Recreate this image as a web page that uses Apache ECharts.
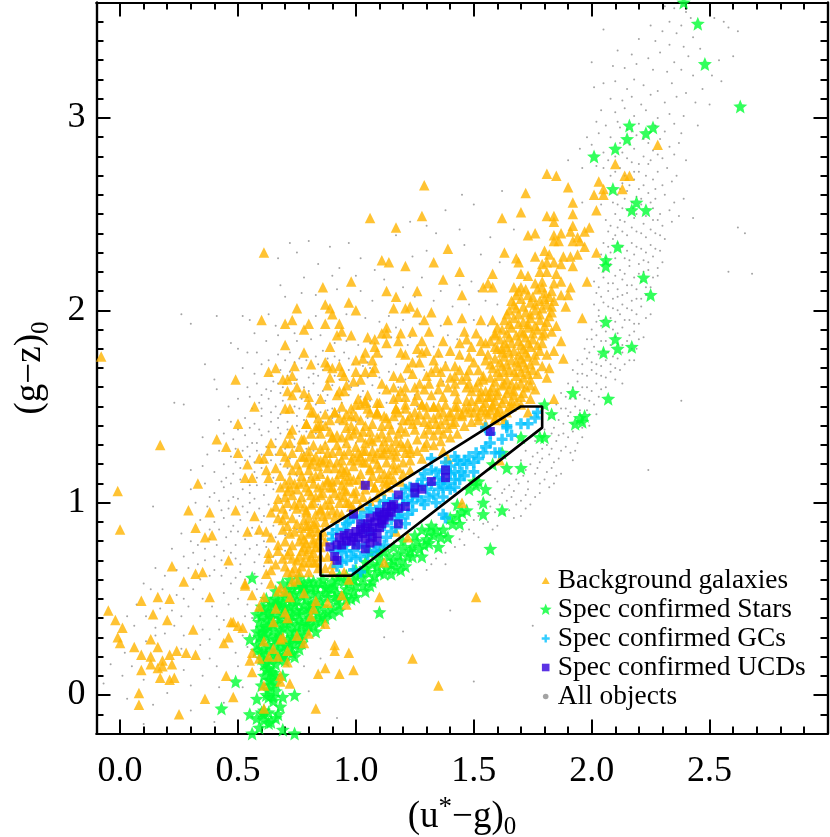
<!DOCTYPE html>
<html>
<head>
<meta charset="utf-8">
<style>html,body{margin:0;padding:0;background:#fff}#chart{width:830px;height:837px}</style>
<script src="https://cdn.jsdelivr.net/npm/echarts@6/dist/echarts.min.js"></script>
</head>
<body>
<div id="chart"></div>
<script>
var xMajorTicks = [0, 0.5, 1, 1.5, 2, 2.5];
var yMajorTicks = [0, 1, 2, 3];
var xMinorTicks = [0, 0.1, 0.2, 0.3, 0.4, 0.6, 0.7, 0.8, 0.9, 1.1, 1.2, 1.3, 1.4, 1.6, 1.7, 1.8, 1.9, 2.1, 2.2, 2.3, 2.4, 2.6, 2.7, 2.8, 2.9];
var yMinorTicks = [-0.1, 0.1, 0.2, 0.3, 0.4, 0.5, 0.6, 0.7, 0.8, 0.9, 1.1, 1.2, 1.3, 1.4, 1.5, 1.6, 1.7, 1.8, 1.9, 2.1, 2.2, 2.3, 2.4, 2.5, 2.6, 2.7, 2.8, 2.9, 3.1, 3.2, 3.3, 3.4, 3.5];

var boxOutline = [[0.85,0.845],[1.70,1.50],[1.79,1.50],[1.79,1.39],[0.98,0.62],[0.85,0.62],[0.85,0.845]];

var galaxies = [
[1.06,2.48],[1.17,2.43],[0.61,2.30],[1.11,2.26],[1.14,2.25],[1.21,2.23],[0.86,2.12],[0.98,2.15],[1.13,2.10],[1.17,2.07],[0.97,2.04],[0.87,2.03],[0.89,2.01],[0.75,2.01],[1.00,2.00],[1.16,2.01],[1.21,2.01],[1.23,2.02],[0.90,1.98],[0.60,1.95],[0.73,1.95],[0.70,1.93],[0.80,1.93],[0.87,1.93],[0.93,1.93],[0.78,1.90],[1.13,1.91],[0.94,1.89],[0.92,1.87],[0.98,1.87],[1.11,1.88],[1.13,1.88],[1.19,1.88],[1.24,1.89],[1.05,1.86],[1.08,1.85],[1.18,1.84],[1.13,1.83],[1.08,1.81],[0.70,1.82],[0.89,1.81],[-0.08,1.76],[0.78,1.78],[1.04,1.78],[1.09,1.78],[1.19,1.78],[1.21,1.77],
[1.81,2.71],[1.85,2.70],[1.29,2.65],[1.90,2.64],[1.72,2.61],[2.03,2.67],[2.01,2.60],[2.05,2.63],[2.05,2.60],[2.10,2.76],[2.28,2.86],[2.14,2.70],[2.16,2.70],[2.13,2.63],[1.92,2.56],[2.02,2.52],[1.70,2.51],[1.28,2.49],[1.62,2.48],[1.81,2.49],[1.84,2.49],[1.92,2.50],[1.84,2.46],[1.92,2.44],[1.91,2.41],[1.99,2.43],[1.97,2.41],[1.76,2.40],[1.73,2.39],[1.84,2.39],[1.87,2.40],[1.84,2.36],[1.86,2.36],[1.94,2.38],[1.92,2.36],[1.95,2.36],[1.97,2.33],[1.39,2.32],[1.80,2.31],[1.63,2.30],[2.02,2.30],[1.82,2.29],[1.76,2.28],[1.94,2.29],[1.88,2.28],[1.91,2.28],[1.33,2.25],[1.68,2.27],[1.69,2.25],[1.79,2.24],[1.81,2.25],[1.84,2.25],[1.87,2.24],[1.92,2.23],[1.44,2.20],[1.58,2.19],[1.37,2.16],[1.98,2.15],[1.70,2.19],[1.73,2.18],[1.78,2.20],[1.81,2.20],[1.85,2.19],[1.56,2.14],[1.54,2.12],[1.58,2.12],[1.26,2.10],[1.45,2.08],[1.67,2.12],[1.70,2.12],[1.76,2.14],[1.79,2.15],[1.84,2.14],[1.87,2.15],[1.91,2.12],[1.87,2.08],[1.90,2.08],[1.89,2.02],[1.96,1.96],[1.26,1.99],[1.32,1.99],[1.39,1.95],[1.45,1.96],[1.53,1.95],[1.29,1.95],[1.58,1.95],[1.85,1.92],[1.31,1.89],[1.46,1.89],[1.51,1.88],[1.59,1.88],[1.83,1.89],[1.87,1.84],[1.84,1.79],[1.88,1.75],[1.82,1.70],[1.81,1.65],[1.84,1.54],
[1.69,2.10],[1.73,2.08],[1.77,2.11],[1.80,2.09],[1.83,2.10],[1.66,2.05],[1.70,2.06],[1.74,2.04],[1.78,2.05],[1.81,2.03],[1.84,2.05],[1.65,2.00],[1.68,2.01],[1.72,1.99],[1.76,2.00],[1.79,2.01],[1.83,1.99],[1.63,1.95],[1.67,1.96],[1.71,1.94],[1.74,1.96],[1.78,1.95],[1.81,1.94],[1.62,1.90],[1.66,1.91],[1.70,1.89],[1.73,1.91],[1.77,1.90],[1.80,1.88],[1.61,1.85],[1.65,1.86],[1.69,1.84],[1.72,1.86],[1.75,1.85],[1.79,1.83],[1.60,1.80],[1.64,1.81],[1.67,1.79],[1.71,1.80],[1.74,1.81],[1.78,1.79],[1.81,1.77],[1.59,1.75],[1.63,1.76],[1.66,1.74],[1.70,1.75],[1.73,1.76],[1.76,1.74],[1.58,1.70],[1.62,1.71],[1.65,1.69],[1.69,1.71],[1.72,1.70],[1.75,1.69],[1.79,1.71],[1.57,1.65],[1.61,1.66],[1.64,1.64],[1.68,1.66],[1.71,1.65],[1.74,1.64],[1.58,1.60],[1.62,1.61],[1.65,1.59],[1.68,1.61],[1.72,1.60],[1.76,1.59],[1.56,1.55],[1.60,1.56],[1.63,1.54],[1.67,1.56],[1.70,1.55],[1.74,1.54],[1.54,1.50],[1.58,1.51],[1.61,1.49],[1.65,1.50],[1.68,1.52],[1.52,1.45],[1.56,1.46],[1.59,1.44],[1.62,1.45],
[0.66,1.70],[0.63,1.68],[0.74,1.71],[0.81,1.72],[0.87,1.73],[0.88,1.71],[0.90,1.70],[0.93,1.71],[1.00,1.74],[1.03,1.75],[1.07,1.74],[0.49,1.64],[0.69,1.64],[0.71,1.64],[0.73,1.66],[0.89,1.65],[0.94,1.68],[0.95,1.66],[1.00,1.68],[1.04,1.68],[1.08,1.70],[1.07,1.68],[1.16,1.66],[1.19,1.65],[1.22,1.70],[1.24,1.67],[0.99,1.63],[1.02,1.64],[0.71,1.58],[0.75,1.60],[0.73,1.56],[0.78,1.57],[0.80,1.55],[0.88,1.61],[1.11,1.62],[1.13,1.59],[0.96,1.61],[0.93,1.58],[0.95,1.58],[0.92,1.56],[0.85,1.54],[1.01,1.54],[1.05,1.56],[1.04,1.53],[1.09,1.52],[1.16,1.60],[1.18,1.55],[1.21,1.60],[1.16,1.54],[0.57,1.50],[0.70,1.49],[0.72,1.49],[0.80,1.51],[0.81,1.47],[0.91,1.47],[0.96,1.46],[0.98,1.49],[1.00,1.51],[1.02,1.51],[1.04,1.52],[1.09,1.47],[1.09,1.46],[1.17,1.49],[1.21,1.49],[1.23,1.45],
[1.26,1.80],[1.28,1.84],[1.30,1.79],[1.27,1.73],[1.33,1.74],[1.35,1.78],[1.40,1.79],[1.44,1.83],[1.47,1.85],[1.49,1.81],[1.53,1.79],[1.55,1.83],[1.59,1.87],[1.59,1.81],[1.62,1.80],[1.32,1.68],[1.36,1.68],[1.42,1.71],[1.42,1.66],[1.47,1.66],[1.48,1.62],[1.54,1.66],[1.50,1.73],[1.57,1.72],[1.54,1.64],[1.55,1.58],[1.27,1.62],[1.31,1.62],[1.39,1.60],[1.45,1.64],[1.49,1.58],[1.52,1.54],[1.28,1.51],[1.33,1.50],[1.38,1.51],[1.43,1.50],[1.47,1.53],[1.53,1.55],[1.57,1.55],[1.45,1.46],[1.50,1.47],[1.40,1.45],[1.35,1.46],[1.30,1.46],
[0.50,1.41],[0.41,1.33],[0.45,1.29],[0.50,1.26],[0.54,1.20],[0.59,1.23],[0.61,1.23],[0.64,1.31],[0.63,1.27],[0.70,1.31],[0.72,1.31],[0.70,1.24],[0.73,1.38],[0.72,1.36],[0.77,1.33],[0.81,1.36],[0.83,1.39],[0.79,1.41],[0.85,1.40],[0.89,1.37],[0.92,1.35],[0.90,1.34],[0.99,1.36],[0.96,1.39],[0.62,1.17],[0.66,1.18],[0.53,1.13],[0.56,1.13],[0.63,1.13],[0.68,1.14],[0.70,1.10],[0.73,1.17],[0.77,1.24],[0.80,1.24],[0.82,1.22],[0.76,1.10],[0.77,1.14],[0.83,1.14],[0.86,1.21],[0.88,1.11],[0.90,1.11],[0.94,1.18],[0.96,1.17],[1.01,1.26],[0.99,1.24],[1.04,1.27],[1.09,1.26],[1.12,1.26],[1.09,1.20],[1.13,1.21],[1.17,1.24],[1.21,1.26],[1.23,1.28],[1.04,1.21],[1.06,1.17],[1.10,1.13],[1.16,1.17],[1.20,1.15],[0.99,1.12],[1.03,1.10],[1.08,1.08],[1.13,1.10],[0.96,1.06],[1.00,1.06],[0.66,0.98],[0.69,0.97],[0.75,0.97],[0.79,0.95],[0.81,1.04],[0.85,1.04],[0.89,1.02],[0.93,1.04],[0.96,1.00],[0.99,0.97],[0.92,0.95],[0.85,0.97],[0.77,1.03],[0.73,1.04],[0.71,1.06],[0.69,0.91],[0.73,0.92],[0.78,0.91],[0.83,0.90],[0.88,0.94],[0.54,0.85],[0.57,0.93],[0.59,0.86],[0.62,0.85],[0.64,0.82],[0.69,0.86],[0.73,0.78],[0.77,0.83],[0.80,0.84],[0.83,0.87],[0.85,0.83],[0.82,0.79],[0.77,0.75],[0.73,0.71],[0.69,0.71],[0.67,0.78],[0.63,0.74],[0.63,0.71],[0.67,0.75],[0.75,0.70],[0.79,0.73],[0.82,0.74],[0.83,0.69],[0.80,0.69],[0.85,0.77],
[1.73,1.47],[1.66,1.50],[1.64,1.47],[1.59,1.43],[1.55,1.47],[1.52,1.43],[1.60,1.47],[1.58,1.50],[1.51,1.50],[1.48,1.47],[1.45,1.45],[1.42,1.50],[1.40,1.47],[1.35,1.50],[1.33,1.50],[1.34,1.41],[1.31,1.38],[1.35,1.38],[1.28,1.51],[1.25,1.47],[1.21,1.51],[1.22,1.43],[1.17,1.49],[1.14,1.41],[1.10,1.52],[1.11,1.40],[1.09,1.47],[1.06,1.47],[1.02,1.43],[0.98,1.40],[0.97,1.35],[0.94,1.50],[0.91,1.47],[0.87,1.40],[0.84,1.40],[0.82,1.47],[0.79,1.41],[0.78,1.33],[0.85,1.36],[0.90,1.34],[0.94,1.34],[1.02,1.34],[1.06,1.37],[1.14,1.34],[1.18,1.36],[1.21,1.37],[1.22,1.31],[1.23,1.26],[1.17,1.27],[1.13,1.28],[1.11,1.25],[1.06,1.33],[1.03,1.27],[0.97,1.27],[0.95,1.25],[0.90,1.26],[0.87,1.23],[0.82,1.30],[0.83,1.24],[0.79,1.21],[0.78,1.24],[0.91,1.18],[0.95,1.16],[0.99,1.19],[1.03,1.21],[1.06,1.18],[1.10,1.18],[1.12,1.15],[1.16,1.20],[1.20,1.21],[1.23,1.17],[0.97,1.11],[0.92,1.12],[0.88,1.12],[0.85,1.15],[0.82,1.10],[0.78,1.11],[0.80,1.17],[0.91,1.05],[0.86,1.05],[0.83,1.03],[0.80,1.06],[0.95,1.07],[0.99,1.05],[1.04,1.07],[1.08,1.08],[1.11,1.06],[1.14,1.08],[0.79,0.96],[0.85,0.96],[0.89,0.99],[0.93,1.00],[0.97,1.00],[1.02,0.98],[1.06,1.01],[0.86,0.93],[0.82,0.89],[0.79,0.88],[0.78,0.81],[0.82,0.81],[0.80,0.76],[0.78,0.69],[0.82,0.69],[0.87,0.80],[0.88,0.72],[0.87,0.66],[0.90,0.68],[0.95,0.64],[0.90,0.64],[0.97,0.60],[1.12,0.69],[1.37,1.27],[1.39,1.23],[1.45,1.00],[1.17,0.85],[1.22,0.82],[1.61,1.22],
[-0.01,1.06],[0.00,0.86],[0.17,1.30],[0.33,1.10],[0.29,0.96],[0.38,0.95],[0.49,0.96],[0.32,0.87],[0.36,0.82],[0.39,0.83],[0.46,0.70],[0.22,0.67],[0.32,0.63],[0.35,0.64],[0.27,0.59],[0.53,0.57],[0.16,0.51],[0.21,0.50],[0.09,0.49],[0.38,0.51],[-0.05,0.44],[0.14,0.42],[0.20,0.39],[-0.02,0.39],[0.01,0.35],[0.47,0.38],[0.48,0.38],[0.50,0.36],[0.52,0.35],[0.31,0.34],[-0.01,0.30],[0.00,0.27],[0.13,0.29],[0.46,0.30],[0.44,0.27],[0.06,0.25],[0.16,0.25],[0.24,0.23],[0.28,0.22],[0.32,0.21],[0.21,0.21],[0.09,0.21],[0.13,0.20],[0.18,0.18],[0.22,0.16],[0.18,0.15],[0.13,0.16],[0.16,0.14],[0.09,0.13],[0.17,0.09],[0.21,0.08],[0.23,0.09],[0.45,0.10],[0.08,0.01],[0.08,-0.05],[0.36,-0.02],[0.48,-0.01],[0.25,-0.10],[0.91,0.26],[0.91,0.23],[0.97,0.22],[0.87,0.14],[0.84,0.11],[0.93,0.11],[0.99,0.13],[1.24,0.19],[0.83,-0.07],[1.10,0.51],[1.51,0.51],[1.35,0.05],
[0.83,0.49],[0.88,0.48],[0.82,0.45],[0.70,0.43],[0.66,0.45],[0.81,0.41],[0.71,0.40],[0.65,0.38],[0.87,0.37],[0.94,0.52],[0.96,0.47],[0.80,0.32],[0.75,0.31],[0.69,0.30],[0.68,0.29],[0.61,0.28],[0.78,0.27],[0.65,0.24],[0.71,0.23],[0.63,0.20],[0.67,0.20],[0.59,0.19],[0.71,0.17],[0.56,0.22],[0.55,0.18],[0.56,0.12],[0.68,0.10],[0.68,0.07],[0.61,0.05],[0.72,0.06],[0.61,-0.07],[0.56,0.52],[0.61,0.51],[0.59,0.46],[0.53,0.58],[0.62,0.63],[0.64,0.58],[0.64,0.65],[0.71,0.64],[0.73,0.64],[0.76,0.64],[0.75,0.60],[0.73,0.59],[0.70,0.54],[0.68,0.56],[0.72,0.51],[0.78,0.53],[0.67,0.54]
];

var galaxiesDense = [
[1.68,2.08],[1.72,2.11],[1.75,2.07],[1.79,2.12],[1.82,2.07],[1.67,2.03],[1.71,2.02],[1.76,2.03],[1.80,2.06],[1.83,2.02],[1.64,1.98],[1.69,1.98],[1.74,1.98],[1.78,1.98],[1.82,1.97],[1.65,1.93],[1.69,1.93],[1.73,1.93],[1.76,1.92],[1.80,1.92],[1.64,1.88],[1.68,1.87],[1.71,1.88],[1.75,1.88],[1.79,1.87],[1.63,1.83],[1.66,1.83],[1.70,1.82],[1.73,1.83],[1.77,1.82],[1.62,1.78],[1.65,1.78],[1.69,1.77],[1.72,1.78],[1.76,1.77],[1.61,1.73],[1.64,1.72],[1.68,1.73],[1.71,1.73],[1.74,1.72],[1.60,1.68],[1.63,1.68],[1.67,1.68],[1.70,1.68],[1.73,1.67],[1.77,1.67],[1.59,1.63],[1.63,1.62],[1.66,1.62],[1.70,1.62],[1.74,1.61],[1.57,1.58],[1.60,1.58],[1.64,1.57],[1.67,1.58],[1.71,1.57],[1.55,1.52],[1.59,1.53],[1.62,1.52],[1.66,1.53],[1.70,1.51],[1.53,1.48],[1.57,1.48],[1.60,1.47],[1.63,1.43],[1.55,1.41],[1.49,1.42],[1.46,1.40],[1.42,1.42],[1.38,1.43],[1.33,1.44],[1.29,1.42],[1.26,1.43],[1.20,1.43],[1.16,1.45],[1.13,1.44],[1.07,1.41],[1.04,1.40],[1.00,1.45],[0.95,1.43],[0.89,1.43],[1.43,1.36],[1.40,1.34],[1.37,1.36],[1.33,1.35],[1.29,1.36],[1.26,1.33],[1.17,1.32],[1.12,1.32],[1.09,1.34],[1.04,1.31],[1.00,1.29],[0.92,1.30],[0.87,1.30],[1.33,1.30],[1.36,1.32],[1.29,1.29],[1.26,1.27],[1.20,1.29],[1.15,1.25],[1.08,1.23],[1.01,1.22],[0.94,1.22],[0.88,1.18],[0.84,1.19],[0.75,1.20],[0.71,1.21],[1.18,1.18],[1.14,1.15],[1.07,1.14],[1.02,1.15],[0.97,1.14],[0.93,1.15],[0.89,1.08],[0.84,1.08],[0.75,1.07],[0.72,1.12],[0.68,1.08],[0.81,0.99],[0.76,1.00],[0.71,1.00],[0.83,0.94],[0.80,0.92],[0.75,0.89],[0.71,0.88],[0.67,0.92],[0.64,0.95],[0.72,0.84],[0.78,0.77],[0.70,0.80],[0.83,0.77],[0.85,0.72],[0.74,0.66],[0.80,0.64],[0.84,0.66],[0.77,0.67],[0.70,0.67],[0.66,0.68],[0.86,0.85],[0.81,0.85],[0.91,0.92],[0.94,0.94],[0.98,0.98],[1.03,1.03],[1.09,1.03],[1.14,1.12],[1.19,1.11],[1.23,1.22],[1.28,1.23],[1.30,1.31],[1.25,1.38],[1.39,1.39],[1.46,1.49],[1.49,1.53],[1.43,1.54],[1.37,1.55],[1.32,1.56],[1.26,1.56],[1.21,1.55],[1.42,1.58],[1.36,1.63],[1.30,1.66],[1.25,1.60],[1.44,1.69],[1.38,1.71],[1.51,1.60],[1.52,1.69],[1.56,1.77],[1.53,1.84],[1.48,1.76],[1.44,1.77],[1.37,1.84],[1.28,1.78],[1.24,1.73],
[1.48,1.50],[1.41,1.41],[1.36,1.41],[1.31,1.41],[1.27,1.46],[1.24,1.41],[1.19,1.39],[1.15,1.38],[1.11,1.36],[1.07,1.32],[1.03,1.37],[1.00,1.38],[0.96,1.31],[0.93,1.27],[0.88,1.26],[0.85,1.28],[0.80,1.27],[0.76,1.29],[0.73,1.26],[0.68,1.27],[1.19,1.31],[1.15,1.29],[1.11,1.29],[1.07,1.27],[1.06,1.24],[1.02,1.24],[0.98,1.22],[0.92,1.21],[0.89,1.21],[0.85,1.22],[0.81,1.20],[0.76,1.17],[0.72,1.08],[1.16,1.12],[1.12,1.11],[1.06,1.11],[1.01,1.12],[0.95,1.12],[0.94,1.09],[0.90,1.08],[0.86,1.09],[0.81,1.13],[0.79,1.08],[0.74,1.10],[0.70,1.03],[0.67,1.02],[1.00,1.02],[0.95,1.03],[0.90,0.96],[0.87,0.99],[0.82,1.00],[0.78,0.98],[0.74,0.99],[0.70,0.94],[0.87,0.90],[0.84,0.85],[0.80,0.88],[0.77,0.87],[0.74,0.85],[0.76,0.80],[0.72,0.75],[0.79,0.79],[0.81,0.72],[0.76,0.72],[0.71,0.73],[0.84,0.80],[1.12,1.45],[1.18,1.47],[1.05,1.49],[0.98,1.45],[0.93,1.44],[0.87,1.46],[0.84,1.44],[1.30,1.50],[1.37,1.47],[1.43,1.46],[1.25,1.53],[1.19,1.58],[1.29,1.59],[1.35,1.59],[1.42,1.62],[1.47,1.60],[1.52,1.63],[1.48,1.69],[1.40,1.65],[1.34,1.70],[1.60,1.91],[1.57,1.84],[1.55,1.74],[1.53,1.58]
];

var stars = [
[2.39,3.60],[2.45,3.49],[2.48,3.28],[2.63,3.06],[2.16,2.96],[2.26,2.95],[2.23,2.92],[2.15,2.89],[2.10,2.84],[2.01,2.80],[2.09,2.63],[2.19,2.56],[2.17,2.52],[2.23,2.52],[2.11,2.33],[2.06,2.26],[2.06,2.23],[2.22,2.17],[2.25,2.08],[2.06,1.94],[2.10,1.85],[2.11,1.80],[2.17,1.81],[2.05,1.78],[1.92,1.57],[2.07,1.54],[1.80,1.51],[1.83,1.46],[1.97,1.45],[1.95,1.44],[1.93,1.41],[1.96,1.42],
[1.80,1.34],[1.78,1.34],[1.70,1.34],[1.62,1.26],[1.64,1.18],[1.70,1.18],[1.58,1.20],[1.50,1.11],[1.52,1.11],[1.48,1.07],[1.55,1.07],[1.51,1.09],[1.62,0.96],[1.54,1.00],[1.54,0.94],[1.47,0.96],[1.43,0.99],[1.43,0.93],[1.41,0.89],[1.39,0.82],[1.44,0.89],[1.57,0.76],[1.34,0.86],[1.33,0.83],[1.35,0.77],[1.28,0.72],[1.21,0.67],[1.28,0.86],[1.30,0.81],[1.24,0.77],[1.18,0.73],[1.13,0.66],[1.09,0.67],[1.14,0.72],[1.10,0.74],[1.25,0.83],[1.20,0.80],[1.16,0.77],[1.22,0.72],[1.06,0.74],[1.04,0.69],[1.02,0.64],[1.07,0.59],[1.03,0.57],[0.97,0.58],[0.90,0.59],[0.85,0.58],[0.80,0.59],[0.77,0.56],[1.00,0.62],[0.93,0.62],[0.88,0.56],[1.05,0.64],[0.99,0.54],[0.95,0.52],
[0.83,0.56],[0.79,0.54],[0.74,0.53],[0.70,0.51],[0.67,0.47],[0.64,0.43],[0.62,0.39],[0.60,0.35],[0.59,0.30],[0.58,0.26],[0.60,0.22],[0.62,0.17],[0.66,0.16],[0.65,0.21],[0.63,0.26],[0.62,0.31],[0.65,0.34],[0.67,0.38],[0.69,0.42],[0.72,0.46],[0.75,0.49],[0.79,0.50],[0.84,0.52],[0.88,0.51],[0.92,0.49],[0.86,0.46],[0.80,0.45],[0.76,0.42],[0.72,0.39],[0.69,0.35],[0.67,0.31],[0.66,0.26],[0.69,0.25],[0.71,0.29],[0.74,0.33],[0.77,0.37],[0.80,0.40],[0.84,0.42],[0.78,0.31],[0.74,0.27],[0.70,0.21],[0.72,0.37],[0.75,0.44],[0.68,0.45],[0.64,0.48],[0.71,0.55],[0.75,0.57],[0.81,0.47],[0.85,0.38],[0.88,0.43],[0.63,0.36],[0.61,0.44],[0.66,0.54],[0.90,0.55],[0.82,0.36],
[0.63,0.08],[0.63,0.03],[0.63,-0.01],[0.69,0.10],[0.60,0.05],[0.58,-0.02],[0.69,-0.01],[0.74,0.00],[0.68,-0.06],[0.67,-0.10],[0.55,-0.10],[0.58,-0.12],[0.61,-0.10],[0.64,-0.14],[0.59,-0.17],[0.69,-0.18],[0.56,-0.20],[0.74,-0.20],[0.49,0.07],[0.43,-0.07],[0.55,0.29],[0.74,0.20],[0.56,0.61],[1.10,0.43],[0.67,0.49],[0.62,0.13],[0.65,0.115],[0.61,0.16],[0.64,0.05],[0.66,0.02],[0.61,-0.08],[0.63,-0.145],[0.65,-0.03]
];

var starsDense = [
[0.78,0.58],[0.82,0.59],[0.86,0.60],[0.91,0.57],[0.95,0.59],[0.99,0.60],[1.03,0.61],[1.06,0.57],[1.00,0.57],[0.96,0.55],[0.92,0.53],[0.87,0.53],[0.82,0.53],[0.77,0.52],[0.73,0.50],[0.69,0.48],[0.66,0.50],[0.63,0.46],[0.60,0.41],[0.59,0.38],[0.58,0.33],[0.60,0.28],[0.61,0.24],[0.62,0.21],[0.64,0.18],[0.67,0.19],[0.69,0.20],[0.72,0.24],[0.72,0.27],[0.76,0.29],[0.79,0.34],[0.83,0.39],[0.86,0.41],[0.90,0.45],[0.93,0.47],[0.91,0.51],[0.85,0.49],[0.82,0.48],[0.78,0.47],[0.74,0.47],[0.70,0.46],[0.66,0.42],[0.64,0.40],[0.65,0.37],[0.61,0.33],[0.64,0.30],[0.66,0.29],[0.68,0.33],[0.70,0.37],[0.73,0.41],[0.77,0.44],[0.80,0.43],[0.83,0.45],[0.79,0.38],[0.75,0.36],[0.72,0.33],[0.68,0.28],[0.64,0.23],[0.67,0.23],[0.70,0.26],[0.73,0.30],[0.76,0.33],[0.76,0.39],[0.72,0.43],[0.68,0.40],[0.62,0.35],[0.60,0.32],[0.63,0.42],[0.66,0.47],[0.70,0.53],[0.73,0.55],[0.78,0.56],[0.87,0.56],[0.81,0.56],[0.92,0.60],[0.96,0.62],[1.04,0.66],[1.10,0.70],[1.16,0.70],[1.12,0.75],[1.20,0.76],[1.26,0.80],[1.31,0.85],[1.24,0.72],[1.29,0.78],[1.17,0.66],[1.07,0.68],[1.00,0.65],[0.66,0.10],[0.64,0.12],[0.61,0.10],[0.64,0.08],[0.66,0.06],[0.62,0.00],[0.65,-0.01],[0.60,-0.09],[0.63,-0.09],[0.66,-0.12],[0.61,-0.13],
[0.80,0.36],[0.83,0.33],[0.87,0.40],[0.90,0.42],[0.93,0.44],[0.96,0.50],[1.00,0.51],[1.04,0.54],[1.08,0.62],[1.12,0.63],[1.15,0.68],[1.19,0.70],[1.23,0.75],[1.27,0.76],[1.31,0.79],[1.36,0.82],[1.32,0.88],[1.37,0.86],[1.40,0.92],[1.45,0.95],[1.19,0.65],[1.15,0.63],[1.10,0.64],[0.98,0.50],[0.77,0.27],[0.73,0.22],[0.70,0.18],[0.76,0.24],[0.58,0.42],[0.60,0.46],[0.62,0.50],[0.69,0.58],[0.72,0.60],[0.76,0.61],[0.58,0.23],[0.60,0.19],[0.63,0.14]
];

var clusters = [
[1.77,1.47],[1.76,1.44],[1.73,1.41],[1.70,1.41],[1.64,1.40],[1.64,1.39],[1.55,1.39],[1.66,1.35],[1.62,1.33],[1.57,1.31],[1.57,1.36],[1.61,1.26],[1.59,1.26],[1.54,1.26],[1.51,1.26],[1.48,1.24],[1.46,1.22],[1.43,1.22],[1.50,1.21],[1.47,1.20],[1.44,1.20],[1.50,1.16],[1.45,1.16],[1.42,1.16],[1.40,1.15],[1.44,1.12],[1.42,1.12],[1.39,1.10],[1.37,1.08],[1.32,1.23],[1.32,1.17],[1.29,1.15],[1.26,1.09],[1.37,1.12],[1.35,1.07],[1.40,1.07],[1.32,1.10],[1.37,0.94],[1.38,0.92],[1.23,1.08],[1.20,1.03],[1.21,1.07],[1.26,1.03],[1.28,1.01],[1.31,1.03],[1.24,1.00],[1.22,0.94],[1.18,0.93],[1.14,1.00],[1.10,0.98],[1.05,0.95],[1.02,0.93],[0.97,0.90],[0.96,0.89],[0.92,0.86],[0.90,0.84],[0.93,0.77],[0.94,0.74],[0.96,0.75],[0.99,0.75],[1.02,0.72],[1.04,0.77],[1.09,0.77],[1.13,0.82],[1.17,0.87],[1.21,0.89],[1.18,0.96],[0.94,0.69],[0.92,0.67],[0.99,0.65],[1.02,0.64],[1.16,0.97],[1.12,0.88],[1.06,0.84],[1.00,0.71],[0.96,0.70],
[1.35,1.13],[1.34,1.16],[1.37,1.17],[1.40,1.19],[1.42,1.24],[1.38,1.21],[1.36,1.10],[1.33,1.04],[1.30,1.07],[1.28,1.09],[1.28,1.12],[1.24,1.04],[1.22,1.01],[1.20,0.99],[1.16,1.02],[1.12,1.01],[1.09,0.95],[1.06,0.97],[1.03,0.89],[0.99,0.92],[0.95,0.86],[0.90,0.81],[0.91,0.75],[0.95,0.78],[0.98,0.72],[1.01,0.78],[1.05,0.73],[1.08,0.75],[1.12,0.78],[1.15,0.85],[1.19,0.92],[1.15,0.91],[1.24,0.96],[1.29,0.99],[1.34,1.00],[1.37,1.03],[1.42,1.08],[1.46,1.14],[1.52,1.23],[1.55,1.29]
];

var ucds = [
[1.57,1.37],[1.38,1.17],[1.38,1.13],[1.32,1.11],[1.28,1.07],[1.25,1.08],[1.25,1.05],[1.18,1.04],[1.04,1.09],[0.99,0.94],[1.18,0.89],[1.21,0.98],[1.18,0.97],[1.15,0.95],[1.13,0.95],[1.14,0.93],[1.11,0.91],[1.09,0.93],[1.06,0.92],[1.10,0.87],[1.07,0.87],[1.04,0.87],[1.02,0.86],[1.09,0.84],[1.07,0.82],[1.09,0.80],[1.04,0.81],[1.00,0.85],[0.97,0.84],[0.93,0.82],[0.96,0.80],[0.92,0.78],[1.00,0.78],[1.04,0.76],[0.99,0.82],[1.12,0.94],[0.89,0.77],[0.91,0.72],[0.92,0.70],
[1.16,0.99],[1.13,0.98],[1.10,0.95],[1.12,0.91],[1.08,0.90],[1.05,0.89],[1.02,0.89],[1.03,0.84],[1.01,0.82],[0.98,0.80],[0.95,0.83],[0.94,0.78],[1.06,0.79],[1.06,0.85],[1.11,0.89],[1.15,0.98]
];

var allObjects = [
[2.31,3.58],[2.35,3.57],[2.40,3.55],[2.33,3.50],[2.38,3.48],[2.42,3.52],[2.25,3.48],[2.30,3.45],[2.36,3.44],[2.52,3.52],[2.56,3.50],[2.58,3.47],[2.43,3.42],[2.20,3.41],[2.27,3.40],[2.33,3.38],[2.39,3.37],[2.46,3.36],[2.62,3.45],[2.05,3.46],[2.11,3.35],[2.17,3.33],[2.24,3.31],[2.29,3.34],[2.35,3.29],[2.41,3.32],[2.54,3.30],[2.60,3.32],[2.00,3.29],[2.09,3.27],[2.14,3.26],[2.19,3.28],[2.26,3.25],[2.32,3.24],[2.38,3.25],[2.43,3.22],[2.51,3.22],[2.55,3.19],[2.01,3.16],[2.05,3.18],[2.10,3.19],[2.15,3.15],[2.18,3.20],[2.22,3.17],[2.28,3.14],[2.34,3.18],[2.40,3.13],[2.47,3.15],[2.08,3.10],[2.13,3.09],[2.17,3.11],[2.21,3.07],[2.25,3.12],[2.31,3.08],[2.36,3.11],[2.44,3.08],[2.50,3.07],[2.04,3.04],[2.10,3.03],[2.14,3.05],[2.18,3.01],[2.23,3.04],[2.28,3.00],[2.33,3.02],[2.39,3.01],[2.45,2.96],[2.02,2.98],[2.06,2.96],[2.11,2.98],[2.15,2.94],[2.20,2.97],[2.27,2.96],[2.31,2.93],[2.35,2.97],[2.38,2.92],[1.98,2.90],[2.03,2.92],[2.08,2.90],[2.12,2.87],[2.19,2.91],[2.24,2.87],[2.29,2.89],[2.33,2.85],[2.37,2.87],[1.95,2.84],[2.00,2.86],[2.05,2.82],[2.13,2.82],[2.18,2.84],[2.22,2.80],[2.26,2.83],[2.30,2.79],[2.35,2.81],[2.40,2.78],[1.90,2.78],[1.96,2.74],[2.02,2.75],[2.07,2.78],[2.12,2.74],[2.17,2.77],[2.20,2.72],[2.24,2.76],[2.28,2.72],[2.32,2.74],[2.36,2.70],[2.08,2.70],[2.13,2.66],[2.18,2.68],[2.22,2.65],[2.26,2.68],[2.30,2.65],[2.34,2.67],[2.11,2.60],[2.15,2.62],[2.19,2.59],[2.24,2.61],[2.27,2.58],[2.31,2.60],[2.35,2.56],[2.39,2.58],[1.96,2.56],[2.04,2.55],[2.09,2.56],[2.13,2.53],[2.21,2.55],[2.26,2.53],[2.29,2.50],[2.33,2.52],[2.37,2.49],[2.43,2.48],[2.06,2.47],[2.10,2.50],[2.14,2.46],[2.18,2.48],[2.22,2.45],[2.26,2.47],[2.30,2.44],[2.34,2.46],[2.62,2.43],[2.65,2.40],[2.07,2.41],[2.11,2.43],[2.15,2.39],[2.19,2.41],[2.23,2.38],[2.27,2.40],[2.31,2.37],[2.05,2.35],[2.09,2.37],[2.13,2.33],[2.17,2.35],[2.21,2.32],[2.25,2.34],[2.29,2.31],[2.04,2.29],[2.08,2.30],[2.14,2.27],[2.18,2.29],[2.22,2.26],[2.26,2.28],[2.30,2.25],[2.58,2.20],[2.68,2.19],[2.03,2.22],[2.08,2.24],[2.12,2.21],[2.16,2.23],[2.20,2.19],[2.24,2.21],[2.28,2.18],[2.01,2.15],[2.05,2.17],[2.09,2.14],[2.13,2.16],[2.17,2.13],[2.21,2.15],[2.25,2.12],[2.02,2.09],[2.07,2.10],[2.11,2.07],[2.15,2.09],[2.19,2.06],[2.23,2.08],[2.01,2.03],[2.05,2.04],[2.09,2.01],[2.13,2.03],[2.17,2.00],[2.21,2.02],[2.25,1.98],[2.03,1.97],[2.08,1.96],[2.12,1.98],[2.16,1.95],[2.20,1.93],[2.00,1.90],[2.04,1.92],[2.09,1.90],[2.13,1.91],[2.18,1.89],[2.22,1.86],[1.98,1.85],[2.02,1.87],[2.06,1.84],[2.10,1.86],[2.15,1.84],[2.19,1.80],[1.97,1.80],[2.01,1.81],[2.05,1.79],[2.09,1.76],[2.13,1.78],[2.18,1.74],[1.94,1.74],[1.98,1.75],[2.02,1.72],[2.06,1.74],[2.10,1.70],[2.14,1.72],[1.92,1.69],[1.96,1.67],[2.00,1.69],[2.04,1.66],[2.08,1.68],[2.13,1.62],[1.90,1.62],[1.94,1.63],[1.98,1.60],[2.02,1.62],[2.06,1.60],[1.87,1.57],[1.91,1.54],[1.95,1.56],[1.99,1.53],[2.03,1.55],[2.38,1.53],[1.85,1.51],[1.89,1.49],[1.93,1.50],[1.98,1.48],[2.02,1.46],[1.82,1.44],[1.86,1.43],[1.90,1.45],[1.94,1.42],[1.99,1.40],[1.80,1.38],[1.84,1.39],[1.88,1.36],[1.92,1.37],[1.96,1.34],[1.76,1.32],[1.81,1.30],[1.85,1.32],[1.89,1.29],[1.93,1.27],[1.72,1.27],[1.77,1.26],[1.82,1.25],[1.86,1.23],[2.24,1.17],[1.70,1.22],[1.74,1.20],[1.78,1.21],[1.83,1.18],[1.87,1.15],[1.92,1.22],[1.66,1.15],[1.71,1.14],[1.76,1.15],[1.80,1.12],[1.84,1.10],[1.60,1.11],[1.65,1.09],[1.69,1.10],[1.73,1.07],[1.78,1.05],[1.57,1.04],[1.62,1.05],[1.66,1.03],[1.70,1.01],[1.74,0.99],[1.52,0.99],[1.57,0.98],[1.61,0.99],[1.65,0.96],[1.70,0.93],[1.47,0.91],[1.52,0.93],[1.56,0.90],[1.60,0.88],[1.45,0.85],[1.50,0.84],[1.40,0.80],[1.46,0.78],[1.34,0.71],[1.38,0.68],[1.30,0.65],[1.24,0.60],[1.40,0.44],[1.20,0.33],[1.12,0.30],[1.50,0.07],[1.75,0.36],
[1.23,2.46],[0.72,2.35],[0.80,2.36],[0.89,2.33],[0.97,2.35],[1.17,2.39],[0.67,2.27],[0.75,2.30],[0.26,1.98],[0.30,1.93],[0.41,1.97],[0.52,1.97],[0.55,1.95],[0.47,1.83],[0.50,1.80],[0.54,1.78],[0.36,1.72],[0.40,1.64],[0.41,1.59],[0.23,1.52],[0.27,1.51],[1.30,2.44],[1.38,2.52],[1.44,2.42],[1.50,2.55],[1.57,2.38],[1.45,2.60],[1.62,2.62],[1.67,2.42],[1.34,2.40],[1.46,2.34],[1.53,2.29],[1.61,2.25],[1.30,2.31],[1.24,2.28],[1.02,2.27],[1.08,2.21],[0.93,2.22],[0.84,2.24],[0.90,2.18],[0.78,2.17],[0.68,2.13],[0.70,2.07],[0.77,2.09],[0.83,2.08],[0.92,2.11],[1.02,2.10],[1.07,2.05],[1.20,2.12],[1.28,2.17],[1.36,2.10],[1.49,2.15],[1.41,2.02],[1.48,2.03],[1.55,2.05],[1.60,2.03],[0.63,1.98],[0.66,1.92],[0.74,1.88],[0.83,1.97],[0.96,1.98],[1.04,1.96],[1.10,1.94],[1.20,1.95],[1.36,1.92],[1.43,1.85],[1.56,1.92],[0.57,1.88],[0.62,1.84],[0.67,1.87],[0.75,1.84],[0.81,1.85],[0.85,1.87],[0.91,1.83],[0.96,1.84],[1.01,1.82],[1.06,1.83],[1.15,1.86],[1.22,1.82],[1.33,1.81],[0.58,1.78],[0.63,1.74],[0.67,1.77],[0.72,1.78],[0.76,1.75],[0.83,1.76],[0.86,1.79],[0.91,1.76],[0.95,1.78],[0.99,1.72],[1.05,1.73],[1.11,1.76],[1.17,1.72],[1.26,1.76],[1.38,1.73],[0.52,1.70],[0.57,1.67],[0.60,1.72],[0.68,1.69],[0.72,1.68],[0.77,1.70],[0.82,1.67],[0.86,1.69],[0.91,1.66],[0.97,1.69],[1.02,1.66],[1.06,1.70],[1.10,1.65],[1.14,1.68],[1.21,1.64],[1.29,1.69],[1.37,1.63],[0.54,1.60],[0.58,1.62],[0.62,1.59],[0.65,1.63],[0.69,1.60],[0.74,1.62],[0.78,1.60],[0.82,1.62],[0.86,1.58],[0.90,1.61],[0.98,1.60],[1.03,1.58],[1.07,1.61],[1.10,1.57],[1.18,1.60],[1.25,1.56],[1.34,1.57],[0.46,1.50],[0.50,1.54],[0.55,1.55],[0.59,1.52],[0.63,1.54],[0.66,1.50],[0.69,1.53],[0.74,1.50],[0.77,1.54],[0.83,1.51],[0.87,1.53],[0.90,1.49],[0.94,1.52],[0.99,1.48],[1.06,1.50],[1.13,1.52],[1.20,1.47],[1.26,1.50],[0.42,1.43],[0.47,1.42],[0.53,1.44],[0.57,1.41],[0.60,1.45],[0.64,1.42],[0.67,1.44],[0.71,1.42],[0.75,1.45],[0.78,1.43],[0.83,1.44],[0.86,1.42],[0.90,1.44],[0.93,1.41],[1.00,1.42],[1.05,1.44],[1.13,1.43],[1.18,1.41],[0.35,1.34],[0.44,1.36],[0.48,1.33],[0.53,1.35],[0.56,1.31],[0.60,1.35],[0.66,1.33],[0.68,1.36],[0.74,1.33],[0.76,1.37],[0.80,1.31],[0.84,1.34],[0.87,1.31],[0.95,1.30],[1.00,1.31],[1.07,1.29],[0.37,1.25],[0.42,1.27],[0.47,1.24],[0.52,1.27],[0.55,1.24],[0.58,1.27],[0.62,1.21],[0.66,1.25],[0.72,1.23],[0.75,1.27],[0.79,1.28],[0.85,1.26],[0.93,1.22],[0.98,1.21],[0.30,1.17],[0.35,1.19],[0.40,1.16],[0.44,1.20],[0.48,1.15],[0.51,1.18],[0.57,1.16],[0.60,1.18],[0.65,1.13],[0.71,1.18],[0.75,1.14],[0.80,1.13],[0.86,1.14],[0.91,1.09],[0.30,1.07],[0.36,1.10],[0.40,1.05],[0.44,1.08],[0.48,1.03],[0.52,1.07],[0.55,1.05],[0.58,1.09],[0.61,1.04],[0.65,1.07],[0.68,1.02],[0.74,1.05],[0.78,1.01],[0.84,0.99],[0.14,0.98],[0.32,1.00],[0.37,0.98],[0.42,1.01],[0.46,0.97],[0.52,0.98],[0.55,1.00],[0.59,0.97],[0.63,0.99],[0.67,0.93],[0.72,0.96],[0.76,0.93],[0.34,0.91],[0.40,0.90],[0.44,0.92],[0.48,0.88],[0.51,0.91],[0.56,0.87],[0.60,0.90],[0.65,0.88],[0.70,0.83],[0.75,0.86],[0.26,0.84],[0.30,0.80],[0.36,0.76],[0.41,0.78],[0.45,0.82],[0.49,0.78],[0.53,0.81],[0.58,0.78],[0.61,0.80],[0.65,0.72],[0.70,0.75],[0.22,0.76],[0.27,0.72],[0.31,0.74],[0.36,0.70],[0.40,0.72],[0.44,0.75],[0.49,0.71],[0.53,0.73],[0.57,0.69],[0.61,0.67],[0.15,0.66],[0.19,0.62],[0.24,0.65],[0.29,0.66],[0.34,0.60],[0.40,0.65],[0.43,0.62],[0.47,0.58],[0.51,0.64],[0.55,0.60],[0.58,0.55],[0.60,0.58],[0.10,0.58],[0.13,0.55],[0.18,0.55],[0.24,0.52],[0.27,0.50],[0.31,0.55],[0.35,0.50],[0.39,0.46],[0.44,0.53],[0.46,0.47],[0.50,0.50],[0.54,0.47],[0.07,0.47],[0.11,0.41],[0.17,0.45],[0.22,0.44],[0.26,0.41],[0.29,0.46],[0.34,0.41],[0.41,0.41],[0.44,0.39],[0.53,0.41],[0.56,0.40],[0.03,0.41],[0.06,0.36],[0.15,0.35],[0.19,0.32],[0.23,0.36],[0.27,0.31],[0.35,0.34],[0.38,0.29],[0.42,0.34],[0.52,0.31],[0.02,0.22],[0.05,0.15],[0.11,0.28],[0.15,0.31],[0.26,0.24],[0.34,0.26],[0.38,0.19],[0.41,0.15],[0.49,0.22],[0.54,0.25],[-0.04,0.16],[0.01,0.10],[0.10,0.08],[0.20,0.01],[0.27,0.13],[0.30,0.05],[0.35,0.10],[0.42,0.04],[0.52,0.04],[0.50,0.15],[-0.07,0.06],[0.03,-0.02],[0.14,-0.05],[0.30,-0.08],[0.44,-0.04],[0.10,-0.15],[0.40,-0.14],[0.85,0.19],[0.78,0.15],[0.80,0.02],[0.92,-0.12]
];

var allObjectsDense = [
[2.12,2.95],[2.17,2.93],[2.22,2.89],[2.16,2.86],[2.10,2.80],[2.15,2.79],[2.20,2.76],[2.25,2.78],[2.28,2.81],[2.05,2.74],[2.10,2.72],[2.14,2.70],[2.18,2.72],[2.23,2.70],[2.27,2.63],[2.20,2.63],[2.16,2.65],[2.12,2.63],[2.08,2.62],[2.14,2.58],[2.17,2.56],[2.21,2.58],[2.25,2.56],[2.11,2.55],[2.15,2.52],[2.19,2.50],[2.23,2.49],[2.28,2.47],[2.12,2.47],[2.08,2.44],[2.13,2.41],[2.17,2.43],[2.21,2.40],[2.25,2.42],[2.29,2.39],[2.10,2.39],[2.07,2.33],[2.11,2.35],[2.15,2.31],[2.19,2.33],[2.23,2.30],[2.27,2.32],[2.10,2.27],[2.06,2.27],[2.16,2.26],[2.20,2.24],[2.24,2.25],[2.28,2.22],[2.05,2.20],[2.10,2.18],[2.14,2.19],[2.18,2.17],[2.22,2.20],[2.26,2.17],[2.03,2.12],[2.07,2.14],[2.11,2.11],[2.15,2.13],[2.19,2.11],[2.23,2.12],[2.04,2.07],[2.09,2.06],[2.13,2.08],[2.17,2.05],[2.21,2.06],[2.03,2.00],[2.07,2.02],[2.11,2.00],[2.15,2.01],[2.19,1.98],[2.23,1.96],[2.05,1.95],[2.10,1.94],[2.14,1.95],[2.18,1.93],[2.02,1.94],[2.06,1.89],[2.11,1.88],[2.16,1.87],[2.20,1.85],[2.00,1.85],[2.04,1.84],[2.08,1.82],[2.13,1.82],[2.17,1.80],[1.99,1.78],[2.03,1.77],[2.07,1.78],[2.11,1.75],[2.16,1.74],[1.96,1.72],[2.00,1.73],[2.04,1.71],[2.08,1.72],[2.12,1.69],[1.94,1.67],[1.98,1.66],[2.02,1.67],[2.06,1.65],[2.10,1.64],[1.92,1.60],[1.96,1.60],[2.00,1.58],[2.04,1.59],[1.89,1.55],[1.93,1.54],[1.97,1.54],[2.01,1.51],[1.87,1.49],[1.91,1.47],[1.95,1.48],[1.99,1.46],[1.84,1.46],[1.88,1.41],[1.92,1.41],[1.96,1.39],[1.83,1.36],[1.86,1.35],[1.90,1.34],[1.94,1.31],[1.79,1.28],[1.83,1.28],[1.87,1.27],[1.91,1.26],[1.75,1.24],[1.79,1.23],[1.84,1.21],[1.72,1.17],[1.77,1.18],[1.81,1.16],[1.85,1.14],[1.68,1.12],[1.73,1.11],[1.78,1.10],[1.82,1.08],[1.63,1.07],[1.67,1.06],[1.72,1.04],[1.76,1.03],[1.59,1.02],[1.64,1.01],[1.68,0.99],[1.72,0.97],[1.54,0.96],[1.59,0.95],[1.63,0.94],[1.67,0.92],[1.50,0.91],[1.54,0.89],[1.58,0.86],[1.48,0.86],[1.52,0.82],[1.44,0.81],[1.42,0.77],[1.38,0.74],[1.32,0.68],
[0.70,1.74],[0.74,1.73],[0.79,1.74],[0.84,1.72],[0.88,1.75],[0.93,1.74],[0.97,1.75],[1.03,1.71],[0.64,1.66],[0.67,1.62],[0.71,1.66],[0.75,1.64],[0.80,1.65],[0.84,1.66],[0.88,1.63],[0.93,1.64],[0.97,1.63],[1.01,1.61],[1.05,1.65],[0.60,1.56],[0.64,1.58],[0.68,1.57],[0.72,1.55],[0.76,1.58],[0.80,1.58],[0.84,1.56],[0.88,1.56],[0.93,1.55],[0.97,1.56],[1.02,1.55],[1.06,1.53],[0.56,1.49],[0.60,1.49],[0.64,1.47],[0.68,1.46],[0.73,1.47],[0.76,1.49],[0.80,1.46],[0.85,1.47],[0.88,1.48],[0.93,1.47],[0.98,1.44],[0.50,1.38],[0.55,1.39],[0.59,1.38],[0.63,1.37],[0.67,1.39],[0.71,1.38],[0.75,1.40],[0.79,1.37],[0.83,1.36],[0.88,1.39],[0.49,1.28],[0.54,1.29],[0.58,1.31],[0.62,1.29],[0.66,1.29],[0.70,1.28],[0.74,1.29],[0.78,1.26],[0.82,1.27],[0.45,1.13],[0.49,1.21],[0.53,1.22],[0.57,1.21],[0.60,1.25],[0.64,1.22],[0.68,1.20],[0.72,1.15],[0.76,1.18],[0.43,1.11],[0.47,1.10],[0.51,1.12],[0.55,1.09],[0.58,1.13],[0.62,1.09],[0.66,1.10],[0.70,1.04],[0.38,1.03],[0.43,0.96],[0.46,1.01],[0.50,1.02],[0.54,0.95],[0.57,1.02],[0.61,0.93],[0.65,0.96],[0.38,0.86],[0.42,0.86],[0.47,0.85],[0.50,0.85],[0.55,0.84],[0.58,0.84],[0.62,0.77],[0.66,0.82],[0.33,0.78],[0.38,0.81],[0.43,0.70],[0.47,0.74],[0.51,0.68],[0.55,0.76],[0.59,0.73],[0.63,0.69],[0.33,0.68],[0.38,0.62],[0.45,0.66],[0.49,0.61],[0.53,0.60],[0.57,0.63],[1.25,2.07],[1.33,2.05],[1.44,2.13],[1.52,2.10],[1.12,2.16],[1.00,2.18],[1.14,1.97],[1.27,1.93],[1.39,1.87],[1.50,1.95],[1.17,1.91],[1.23,1.86],[1.35,1.76],[1.45,1.75]
];

var serif = '"Liberation Serif", "Times New Roman", serif';
var starPath = 'path://M10 0L12.7 6.6 20 7.2 14.4 11.9 16.2 19.2 10 15.2 3.8 19.2 5.6 11.9 0 7.2 7.3 6.6z';
var plusPath = 'path://M3.4 0H6.6V3.4H10V6.6H6.6V10H3.4V6.6H0V3.4H3.4z';

// icons sit in a fixed 14x14 box so each legend marker keeps its own size
var legendIcons = {
  'Background galaxies': 'path://M0 0M14 14M3 10.5L7 3.5L11 10.5z',
  'Spec confirmed Stars': 'path://M0 0M14 14M7 1L8.6 5.1L13 5.3L9.6 8.1L10.7 12.5L7 10.1L3.3 12.5L4.4 8.1L1 5.3L5.4 5.1z',
  'Spec confirmed GCs': 'path://M0 0M14 14M5.8 3H8.2V5.8H11V8.2H8.2V11H5.8V8.2H3V5.8H5.8z',
  'Spec confirmed UCDs': 'path://M0 0M14 14M3.2 3.2H10.8V10.8H3.2z',
  'All objects': 'path://M0 0M14 14M4.2 7A2.8 2.8 0 1 0 9.8 7A2.8 2.8 0 1 0 4.2 7z'
};

function axisBase(extra) {
  return Object.assign({
    type: 'value',
    scale: true,
    splitLine: { show: false },
    axisLine: { show: true, onZero: false, lineStyle: { color: '#000', width: 2.2 } },
    axisLabel: { show: false }
  }, extra);
}

function tickAxis(dim, gridIndex, position, ticks, len, labelled) {
  var range = dim === 'x' ? { min: -0.1, max: 3.0 } : { min: -0.2, max: 3.6 };
  var o = axisBase({
    gridIndex: gridIndex,
    position: position,
    min: range.min,
    max: range.max,
    axisTick: { show: true, inside: true, length: len, customValues: ticks, lineStyle: { color: '#000', width: 2 } }
  });
  if (labelled) {
    o.axisLabel = {
      show: true,
      customValues: ticks,
      margin: dim === 'x' ? 20 : 11,
      color: '#000',
      fontFamily: serif,
      fontSize: 36,
      formatter: function (v) { return dim === 'x' ? Number(v).toFixed(1) : String(Math.round(v)); }
    };
  }
  return o;
}

function axisTitle(o, text, gap) {
  o.name = text;
  o.nameLocation = 'middle';
  o.nameGap = gap;
  o.nameTextStyle = {
    rich: {
      t: { fontFamily: serif, fontSize: 37, color: '#000', lineHeight: 46 },
      s: { fontFamily: serif, fontSize: 27, color: '#000', lineHeight: 46, verticalAlign: 'top' },
      b: { fontFamily: serif, fontSize: 25, color: '#000', lineHeight: 46, verticalAlign: 'bottom' }
    }
  };
  return o;
}

var gridBox = { left: 96.5, right: 2.5, top: 2.5, height: 731, outerBoundsMode: 'none' };

var xAxes = [
  axisTitle(tickAxis('x', 0, 'bottom', xMajorTicks, 14, true), '{t|(u}{s|*}{t|\u2212g)}{b|0}', 49),
  tickAxis('x', 0, 'top', xMajorTicks, 14, false),
  tickAxis('x', 1, 'bottom', xMinorTicks, 7, false),
  tickAxis('x', 1, 'top', xMinorTicks, 7, false)
];
var yAxes = [
  axisTitle(tickAxis('y', 0, 'left', yMajorTicks, 14, true), '{t|(g\u2212z)}{b|0}', 43),
  tickAxis('y', 0, 'right', yMajorTicks, 14, false),
  tickAxis('y', 1, 'left', yMinorTicks, 7, false),
  tickAxis('y', 1, 'right', yMinorTicks, 7, false)
];

var option = {
  animation: false,
  backgroundColor: '#fff',
  grid: [gridBox, gridBox],
  xAxis: xAxes,
  yAxis: yAxes,
  legend: {
    orient: 'vertical',
    left: 538.7,
    top: 567,
    padding: 0,
    itemWidth: 14,
    itemHeight: 14,
    itemGap: 2,
    selectedMode: false,
    textStyle: { fontFamily: serif, fontSize: 27.4, color: '#000' },
    data: Object.keys(legendIcons).map(function (n) { return { name: n, icon: legendIcons[n] }; })
  },
  series: [
    { name: 'All objects', type: 'scatter', data: allObjects.concat(allObjectsDense), symbol: 'circle', symbolSize: 2, itemStyle: { color: '#8c8c8c' }, z: 1 },
    { name: 'Spec confirmed Stars', type: 'scatter', data: stars.concat(starsDense), symbol: starPath, symbolSize: 14, itemStyle: { color: '#00ff33' }, z: 2 },
    { name: 'Background galaxies', type: 'scatter', data: galaxies.concat(galaxiesDense), symbol: 'triangle', symbolSize: 10.5, itemStyle: { color: '#ffb400' }, z: 3 },
    { name: 'Spec confirmed GCs', type: 'scatter', data: clusters, symbol: plusPath, symbolSize: 11, itemStyle: { color: '#00c0ff' }, z: 4 },
    { name: 'Spec confirmed UCDs', type: 'scatter', data: ucds, symbol: 'rect', symbolSize: 9, itemStyle: { color: '#3300dd' }, z: 5 },
    { name: 'selection box', type: 'line', data: boxOutline, symbol: 'none', silent: true, lineStyle: { color: '#000', width: 2.6 }, z: 6 }
  ]
};

var myChart = echarts.init(document.getElementById('chart'), null, { renderer: 'canvas' });
myChart.setOption(option);
</script>
</body>
</html>
